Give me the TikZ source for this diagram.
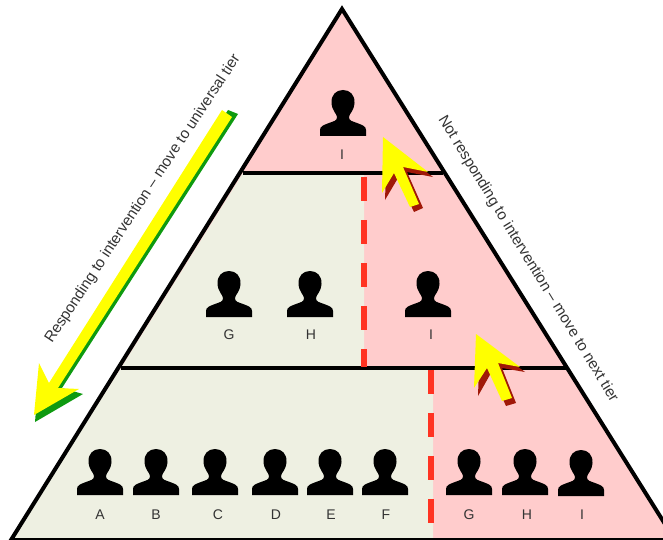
\documentclass[tikz,border=0pt]{standalone}
\usepackage{fontspec}
\setmainfont{Liberation Sans}
\definecolor{tierpink}{HTML}{FFCCCC}
\definecolor{tiergreen}{HTML}{EEF0E2}
\definecolor{dashred}{HTML}{FF3322}
\definecolor{labelgray}{HTML}{333333}
\definecolor{shadowred}{HTML}{A01808}
\definecolor{shadowgreen}{HTML}{0E9A10}
\definecolor{arrowyellow}{HTML}{FFFF00}
\tikzset{
  outline/.style={draw=black,line width=4pt,line join=miter},
  tierline/.style={draw=black,line width=3.6pt},
  splitline/.style={draw=dashred,line width=6pt,dash pattern=on 23.5pt off 19.5pt},
  personlabel/.style={text=labelgray,font=\fontsize{14}{16}\selectfont,anchor=center,inner sep=0pt},
  sidelabel/.style={text=labelgray,font=\fontsize{15.2}{17}\selectfont,anchor=center,inner sep=0pt},
  person/.pic={
    \fill[black] (-23,0) -- (-23,-6) .. controls (-23,-10) and (-19,-11) .. (-14,-13)
      .. controls (-9,-15) and (-6,-15) .. (-6,-19)
      .. controls (-6,-22) and (-11,-25) .. (-11.5,-33)
      .. controls (-12,-41) and (-7,-46) .. (0,-46)
      .. controls (7,-46) and (12,-41) .. (11.5,-33)
      .. controls (11,-25) and (6,-22) .. (6,-19)
      .. controls (6,-15) and (9,-15) .. (14,-13)
      .. controls (19,-11) and (23,-10) .. (23,-6) -- (23,0) -- cycle;
  }
}
\begin{document}
\begin{tikzpicture}[x=1pt,y=-1pt]
\useasboundingbox (0,0) rectangle (663,540);
\clip (0,0) rectangle (663,540);
\coordinate (apex) at (342,9);
\coordinate (baseL) at (11,540);
\coordinate (baseR) at (675,540);
% tier fills
\fill[tierpink] (apex) -- (baseR) -- (baseL) -- cycle;
\fill[tiergreen] (243,173) -- (364,173) -- (364,368) -- (121,368) -- cycle;
\fill[tiergreen] (121,368) -- (433,368) -- (433,540) -- (baseL) -- cycle;
% tier lines
\coordinate (t1L) at (243,173);
\coordinate (t1R) at (443,173);
\coordinate (t2L) at (121,368);
\coordinate (t2R) at (566,368);
\draw[tierline] (t1L) -- (t1R);
\draw[tierline] (t2L) -- (t2R);
% dashed splits
\coordinate (s1a) at (364,177);
\coordinate (s1b) at (364,367);
\coordinate (s2a) at (431,370);
\coordinate (s2b) at (431,523);
\draw[splitline] (s1a) -- (s1b);
\draw[splitline] (s2a) -- (s2b);
% triangle outline
\draw[outline] (apex) -- (baseR) -- (baseL) -- cycle;
% people
\pic at (100,495) {person};
\pic at (156,495) {person};
\pic at (215,495) {person};
\pic at (275,495) {person};
\pic at (330,495) {person};
\pic at (385,495) {person};
\pic at (469,495) {person};
\pic at (525,495) {person};
\pic at (581,496) {person};
\pic at (229,317) {person};
\pic at (310,317) {person};
\pic at (428,317) {person};
\pic at (343,136) {person};
% labels
\node[personlabel] (lA) at (100,515) {A};
\node[personlabel] (lB) at (156,515) {B};
\node[personlabel] (lC) at (218,515) {C};
\node[personlabel] (lD) at (276,515) {D};
\node[personlabel] (lE) at (331,515) {E};
\node[personlabel] (lF) at (386,515) {F};
\node[personlabel] (lG) at (469,515) {G};
\node[personlabel] (lH) at (527,515) {H};
\node[personlabel] (lI) at (582,515) {I};
\node[personlabel] (mG) at (229,335) {G};
\node[personlabel] (mH) at (311,335) {H};
\node[personlabel] (mI) at (431,335) {I};
\node[personlabel] (tI) at (342,155) {I};
% yellow arrows with shadows
\fill[shadowgreen] (228,110) -- (238,114) -- (62,388) -- (83,394) -- (35,422) -- (36,410) -- cycle;
\fill[arrowyellow] (222,110) -- (232,117) -- (58,388) -- (79,389) -- (34,415) -- (39,363) -- (49,383) -- cycle;
\fill[shadowred] (387,142) -- (433,177) -- (407,172) -- (423,208) -- (414,212) -- (398,178) -- (385,200) -- cycle;
\fill[arrowyellow] (383,137) -- (428,172) -- (403,167) -- (419,204) -- (410,207) -- (394,173) -- (382,193) -- cycle;
\fill[shadowred] (480,339) -- (525,372) -- (502,368) -- (516,403) -- (506,406) -- (491,373) -- (478,396) -- cycle;
\fill[arrowyellow] (476,334) -- (520,367) -- (498,363) -- (512,398) -- (502,401) -- (487,368) -- (474,388) -- cycle;
% side labels
\node[sidelabel,rotate=56.6] (respond) at (143,199) {Responding to intervention – move to universal tier};
\node[sidelabel,rotate=-58.6] (notrespond) at (528,259) {Not responding to intervention – move to next tier};
\end{tikzpicture}
\end{document}
